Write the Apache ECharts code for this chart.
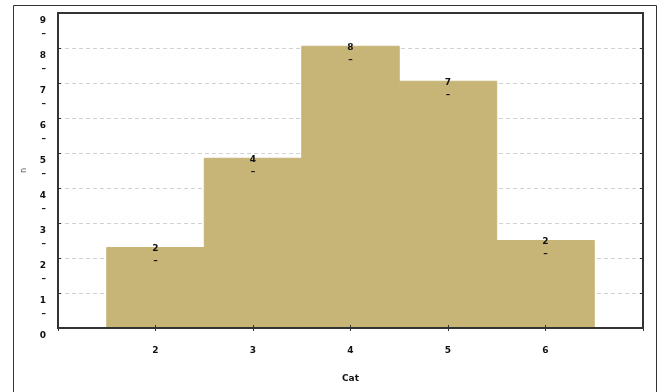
<!DOCTYPE html>
<html>
<head>
<meta charset="utf-8">
<script src="https://cdn.jsdelivr.net/npm/echarts@6/dist/echarts.min.js"></script>
<style>
html,body{margin:0;padding:0;background:#fff;}
#c{width:659px;height:392px;}
</style>
</head>
<body>
<div id="c"></div>
<script>
var categories = [2, 3, 4, 5, 6];
var values = [2.3, 4.85, 8.05, 7.05, 2.5];
var barLabels = ['2', '4', '8', '7', '2'];
var yTicks = [0, 1, 2, 3, 4, 5, 6, 7, 8, 9];
var gridValues = [1, 2, 3, 4, 5, 6, 7, 8];
var xTickLabels = ['2', '3', '4', '5', '6'];
var xName = 'Cat';
var yName = 'n';

var chart = echarts.init(document.getElementById('c'));
var data = categories.map(function (c, i) { return [c, values[i], barLabels[i]]; });
var font = 'DejaVu Sans';

chart.setOption({
  animation: false,
  backgroundColor: '#fff',
  graphic: [{
    type: 'rect', shape: { x: 13.5, y: 5.5, width: 643, height: 400 },
    style: { fill: 'none', stroke: '#333', lineWidth: 1 }, silent: true, z: -1
  }],
  grid: { left: 58, right: 16, top: 13, bottom: 64, show: true, borderColor: '#333', borderWidth: 2, backgroundColor: 'transparent' },
  xAxis: [{
    type: 'value', min: 1, max: 7, interval: 1, z: 3,
    name: xName, nameLocation: 'middle', nameGap: 46,
    nameTextStyle: { fontFamily: font, fontWeight: 'bold', fontSize: 9, color: '#111' },
    axisLine: { show: true, lineStyle: { color: '#333', width: 2 } },
    axisTick: { show: true, inside: true, length: 3, lineStyle: { color: '#333' } },
    axisLabel: {
      margin: 18, fontFamily: font, fontWeight: 'bold', fontSize: 9, color: '#111',
      formatter: function (v) { var i = categories.indexOf(v); return i >= 0 ? xTickLabels[i] : ''; }
    },
    splitLine: { show: false }
  }, {
    type: 'value', min: 1, max: 7, interval: 1, position: 'top', z: 3,
    axisLine: { show: true, lineStyle: { color: '#333', width: 2 } },
    axisTick: { show: true, inside: true, length: 3, lineStyle: { color: '#333' } },
    axisLabel: { show: false }, splitLine: { show: false }
  }],
  yAxis: [{
    type: 'value', min: 0, max: 9, interval: 1, z: 3,
    name: yName, nameLocation: 'middle', nameGap: 30, nameRotate: 90,
    nameTextStyle: { fontFamily: font, fontSize: 8, color: '#555' },
    axisLine: { show: true, lineStyle: { color: '#333', width: 2 } },
    axisTick: { show: true, inside: true, length: 3, lineStyle: { color: '#333' } },
    axisLabel: {
      margin: 12, fontFamily: font, fontWeight: 'bold', fontSize: 9, color: '#111',
      lineHeight: 13, verticalAlign: 'top', padding: [1, 0, 0, 0],
      formatter: function (v) { return v === 0 ? String(v) : v + '\n–'; }
    },
    splitLine: { show: false }
  }, {
    type: 'value', min: 0, max: 9, interval: 1, position: 'right', z: 3,
    axisLine: { show: true, lineStyle: { color: '#333', width: 2 } },
    axisTick: { show: true, inside: true, length: 3, lineStyle: { color: '#333' } },
    axisLabel: { show: false }, splitLine: { show: false }
  }],
  series: [{
    type: 'line', data: [], z: 0, silent: true,
    markLine: {
      z: 0, silent: true, symbol: ['none', 'none'], label: { show: false },
      lineStyle: { color: '#d2d2d2', type: [4, 3], width: 1 },
      data: gridValues.map(function (v) { return { yAxis: v }; })
    }
  }, {
    type: 'custom', z: 2,
    xAxisIndex: 0, yAxisIndex: 0,
    data: data,
    encode: { x: 0, y: 1 },
    renderItem: function (params, api) {
      var x = api.value(0), y = api.value(1);
      var p1 = api.coord([x - 0.5, y]);
      var p2 = api.coord([x + 0.5, 0]);
      var lbl = barLabels[params.dataIndex];
      return {
        type: 'group',
        children: [{
          type: 'rect',
          shape: { x: p1[0], y: p1[1], width: p2[0] - p1[0], height: p2[1] - p1[1] },
          style: { fill: '#c6b577', stroke: '#c6b577', lineWidth: 1 }
        }, {
          type: 'text',
          style: {
            x: (p1[0] + p2[0]) / 2, y: p1[1] - 5, text: lbl + '\n–',
            textAlign: 'center', textVerticalAlign: 'top',
            fontFamily: font, fontWeight: 'bold', fontSize: 9, lineHeight: 12, fill: '#111'
          }
        }]
      };
    }
  }]
});
</script>
</body>
</html>
